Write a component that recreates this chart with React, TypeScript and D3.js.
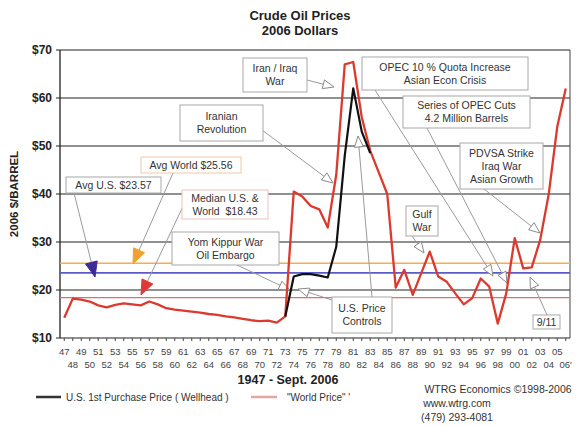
import React from "react";
import * as d3 from "d3";

// ---------- data ----------
const yearLabels = ["47","48","49","50","51","52","53","54","55","56","57","58","59","60","61","62","63","64","65","66","67","68","69","70","71","72","73","74","75","76","77","78","79","80","81","82","83","84","85","86","87","88","89","90","91","92","93","94","95","96","97","98","99","00","01","02","03","04","05","06'"];

const worldPrice = [14.2,18.2,18.0,17.6,16.8,16.4,16.9,17.2,17.0,16.8,
  17.6,17.0,16.2,15.9,15.7,15.5,15.3,15.0,14.8,14.5,
  14.3,14.0,13.7,13.5,13.6,13.2,14.5,40.5,39.5,37.5,
  36.8,33.0,44.0,67.0,67.5,56.0,49.0,44.5,40.0,20.5,
  24.2,19.0,23.5,28.0,22.8,21.7,19.3,17.0,18.3,22.4,
  20.7,13.0,19.3,30.8,24.5,24.7,30.5,40.0,54.0,62.0];

const usYears = ["73","74","75","76","77","78","79","80","81","82","83"];
const usPrice = [14.5,22.8,23.3,23.3,23.0,22.6,29.0,48.0,62.0,53.0,48.5];

const yTicks = [10,20,30,40,50,60,70];
const avgWorld = 25.56;
const avgUS = 23.57;
const median = 18.43;

// annotation texts
const annIranIraq = ["Iran / Iraq","War"];
const annOpec10 = ["OPEC 10 % Quota Increase","Asian Econ Crisis"];
const annOpecCuts = ["Series of OPEC Cuts","4.2 Million Barrels"];
const annIranRev = ["Iranian","Revolution"];
const annAvgWorld = ["Avg World $25.56"];
const annAvgUS = ["Avg U.S. $23.57"];
const annMedian = ["Median U.S. &","World\u00a0 $18.43"];
const annYom = ["Yom Kippur War","Oil Embargo"];
const annControls = ["U.S. Price","Controls"];
const annGulf = ["Gulf","War"];
const annPdvsa = ["PDVSA Strike","Iraq War","Asian Growth"];
const ann911 = ["9/11"];

// ---------- layout ----------
const W = 584, H = 426;
const left = 60, right = 570, top = 50, bottom = 338;
const FONT = "'Liberation Sans', Arial, sans-serif";

const x = d3.scalePoint<string>().domain(yearLabels).range([left, right]).padding(0.5);
const y = d3.scaleLinear().domain([10, 70]).range([bottom, top]);

type Ann = {
  lines: string[];
  box: [number, number, number, number];
  arrows: [number, number, number, number][];
  stroke?: string;
  head?: string;
};

const anns: Ann[] = [
  { lines: annIranIraq, box: [243, 58, 307, 92], arrows: [[307, 80, 334, 87]] },
  { lines: annOpec10, box: [362, 57, 528, 90], arrows: [[375, 90, 493, 276]] },
  { lines: annOpecCuts, box: [403, 96, 530, 128], arrows: [[427, 128, 507, 283]] },
  { lines: annIranRev, box: [180, 105, 263, 141], arrows: [[262, 130, 333, 183]] },
  { lines: annAvgWorld, box: [141, 157, 241, 173], arrows: [[173, 173, 133, 264]], stroke: "#f0c8a0", head: "#f2a030" },
  { lines: annAvgUS, box: [66, 177, 161, 193], arrows: [[74, 193, 95, 277]], head: "#3f2a96" },
  { lines: annMedian, box: [182, 190, 268, 219], arrows: [[186, 200, 141, 295]], stroke: "#ecc0c0", head: "#e03838" },
  { lines: annYom, box: [172, 232, 279, 265], arrows: [[237, 265, 290, 290]] },
  { lines: annControls, box: [332, 297, 392, 333], arrows: [[332, 300, 298, 289], [372, 297, 358, 136]] },
  { lines: annGulf, box: [406, 206, 438, 236], arrows: [[412, 236, 424, 253]] },
  { lines: annPdvsa, box: [460, 143, 543, 189], arrows: [[484, 189, 540, 233]] },
  { lines: ann911, box: [533, 315, 560, 329], arrows: [[547, 315, 530, 277]] },
];

function Arrow({ a, head }: { a: [number, number, number, number]; head?: string }) {
  const [x1, y1, x2, y2] = a;
  const dx = x2 - x1, dy = y2 - y1;
  const len = Math.hypot(dx, dy);
  const ux = dx / len, uy = dy / len;
  const L = head ? 15 : 11;
  const Wd = head ? 6 : 4.5;
  const bx = x2 - ux * L, by = y2 - uy * L;
  const px = -uy, py = ux;
  const pts = `${x2},${y2} ${bx + px * Wd},${by + py * Wd} ${bx - px * Wd},${by - py * Wd}`;
  return (
    <g>
      <line x1={x1} y1={y1} x2={bx} y2={by} stroke="#9a9a9a" strokeWidth={1} />
      <polygon points={pts} fill={head ?? "#fff"} stroke={head ?? "#8a8a8a"} strokeWidth={1} />
    </g>
  );
}

export default function App() {
  const worldLine = d3.line<number>()
    .x((_, i) => x(yearLabels[i]) as number)
    .y((d) => y(d));
  const usLine = d3.line<number>()
    .x((_, i) => x(usYears[i]) as number)
    .y((d) => y(d));

  return (
    <svg width={W} height={H} style={{ position: "absolute", left: 0, top: 0, background: "#fff" }} fontFamily={FONT}>
      <rect x={0} y={0} width={W} height={H} fill="#fff" />
      {/* title */}
      <text x={300} y={20} textAnchor="middle" fontSize={13} fontWeight="bold" fill="#222">Crude Oil Prices</text>
      <text x={300} y={35} textAnchor="middle" fontSize={13} fontWeight="bold" fill="#222">2006 Dollars</text>

      {/* y axis label */}
      <text transform={`translate(18,${(top + bottom) / 2}) rotate(-90)`} textAnchor="middle" fontSize={11.5} fontWeight="bold" fill="#222">2006 $/BARREL</text>

      {/* grid */}
      {yTicks.map((t) => (
        <g key={t}>
          <line x1={left} x2={right} y1={y(t)} y2={y(t)} stroke="#222" strokeWidth={1.1} />
          <line x1={left - 4} x2={left} y1={y(t)} y2={y(t)} stroke="#222" />
          <text x={left - 8} y={y(t) + 4} textAnchor="end" fontSize={12} fontWeight="bold" fill="#222">${t}</text>
        </g>
      ))}
      <line x1={left} x2={left} y1={top} y2={bottom} stroke="#222" strokeWidth={1.3} />
      <line x1={right} x2={right} y1={top} y2={bottom} stroke="#444" strokeWidth={1} />

      {/* reference lines */}
      <line x1={left} x2={right} y1={y(avgWorld)} y2={y(avgWorld)} stroke="#f2b04a" strokeWidth={1.6} />
      <line x1={left} x2={right} y1={y(avgUS)} y2={y(avgUS)} stroke="#5a5ac8" strokeWidth={1.6} />
      <line x1={left} x2={right} y1={y(median)} y2={y(median)} stroke="#e07070" strokeWidth={1.2} />

      {/* x axis ticks and labels */}
      {yearLabels.map((lab, i) => {
        const xx = x(lab) as number;
        return (
          <g key={lab}>
            <line x1={xx} x2={xx} y1={bottom} y2={bottom + 3} stroke="#444" />
            <text x={xx} y={i % 2 === 0 ? 355 : 368} textAnchor="middle" fontSize={9.5} fill="#444">{lab}</text>
          </g>
        );
      })}
      <text x={288} y={384} textAnchor="middle" fontSize={12.5} fontWeight="bold" fill="#222">1947 - Sept. 2006</text>

      {/* annotations */}
      {anns.map((a, k) => (
        <g key={k}>
          {a.arrows.map((ar, j) => <Arrow key={j} a={ar} head={a.head} />)}
        </g>
      ))}
      {anns.map((a, k) => {
        const [x0, y0, x1, y1] = a.box;
        const cx = (x0 + x1) / 2;
        const lh = 13;
        const startY = (y0 + y1) / 2 - ((a.lines.length - 1) * lh) / 2 + 3.8;
        return (
          <g key={"b" + k}>
            <rect x={x0} y={y0} width={x1 - x0} height={y1 - y0} fill="#fff" stroke={a.stroke ?? "#a8a8a8"} strokeWidth={1} />
            {a.lines.map((l, j) => (
              <text key={j} x={cx} y={startY + j * lh} textAnchor="middle" fontSize={10.5} fill="#333">{l}</text>
            ))}
          </g>
        );
      })}

      {/* series */}
      <path d={worldLine(worldPrice) ?? ""} fill="none" stroke="#dc3a2e" strokeWidth={2.3} strokeLinejoin="round" />
      <path d={usLine(usPrice) ?? ""} fill="none" stroke="#111" strokeWidth={2.2} strokeLinejoin="round" />

      {/* legend */}
      <line x1={36} x2={61} y1={397} y2={397} stroke="#333" strokeWidth={2.5} />
      <text x={66} y={401} fontSize={10} fill="#333">U.S. 1st Purchase Price ( Wellhead )</text>
      <line x1={251} x2={277} y1={397} y2={397} stroke="#e2a8a0" strokeWidth={2.5} />
      <text x={287} y={401} fontSize={10} fill="#333">"World Price" '</text>

      <text x={498} y={393} textAnchor="middle" fontSize={10.5} fill="#333">WTRG Economics  ©1998-2006</text>
      <text x={457} y={407} textAnchor="middle" fontSize={10.5} fill="#333">www.wtrg.com</text>
      <text x={457} y={421} textAnchor="middle" fontSize={10.5} fill="#333">(479) 293-4081</text>
    </svg>
  );
}
